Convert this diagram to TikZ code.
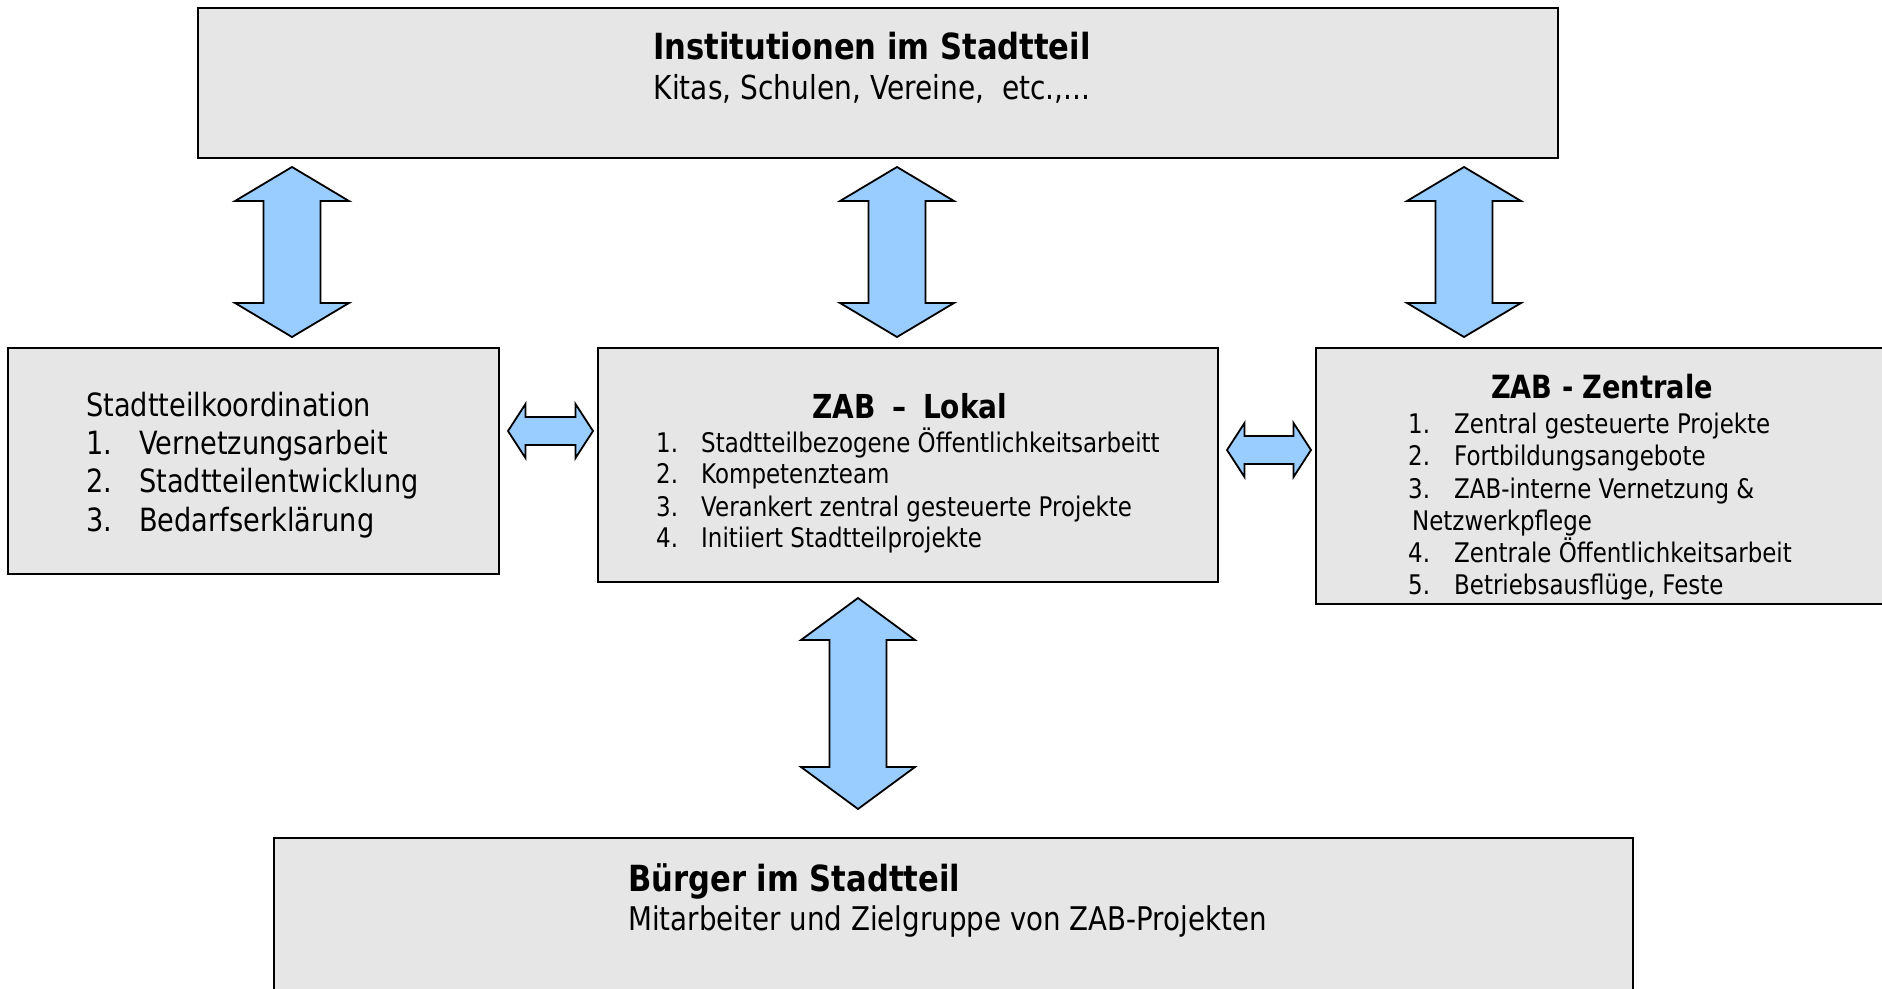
\documentclass[tikz,border=0pt]{standalone}
\usepackage{fontspec}
\setmainfont{DejaVu Sans}[FakeStretch=0.85]
\usetikzlibrary{calc}
\definecolor{boxgray}{HTML}{E6E6E6}
\definecolor{arrowblue}{HTML}{99CCFF}

% block arrows between the boxes
\newcommand{\vblock}[6]{% head length, axis, upper node, lower node, top gap, bottom gap
  \draw[blockarrow] let \p1=(#2 |- #3.south), \p2=(#2 |- #4.north) in
    (\x1,\y1-#5) -- ++(57pt,-#1) -- ++(-28.5pt,0pt) -- (\x1+28.5pt,\y2+#6+#1)
    -- ++(28.5pt,0pt) -- (\x1,\y2+#6) -- ++(-57pt,#1) -- ++(28.5pt,0pt)
    -- (\x1-28.5pt,\y1-#5-#1) -- ++(-28.5pt,0pt) -- cycle;}
\newcommand{\hblock}[3]{% axis, left node, right node
  \draw[blockarrow] let \p1=(#1 -| #2.east), \p2=(#1 -| #3.west) in
    (\x1+8pt,\y1) -- ++(17.5pt,27pt) -- ++(0pt,-13pt) -- (\x2-21.5pt,\y1+14pt)
    -- ++(0pt,13pt) -- (\x2-4pt,\y1) -- ++(-17.5pt,-27pt) -- ++(0pt,13pt)
    -- (\x1+25.5pt,\y1-14pt) -- ++(0pt,-13pt) -- cycle;}

\tikzset{
  box/.style={draw=black, line width=2pt, fill=boxgray, rectangle, inner sep=0pt},
  blockarrow/.style={draw=black, line width=1.8pt, fill=arrowblue, line join=miter},
  bighead/.style={font=\bfseries\fontsize{36}{42}\selectfont, inner sep=0pt},
  smallhead/.style={font=\bfseries\fontsize{32}{38}\selectfont, inner sep=0pt, anchor=base},
  bigtext/.style={font=\fontsize{32}{38}\selectfont, inner sep=0pt, anchor=base west},
  item/.style={font=\fontsize{27}{32}\selectfont, inner sep=0pt, anchor=base west}
}

\begin{document}
\begin{tikzpicture}[x=1pt,y=-1pt]
\useasboundingbox (0,0) rectangle (1882,988);
\clip (0,0) rectangle (1882,988);

% === TOP: Institutionen ===
\node[box, minimum width=1360pt, minimum height=150pt] (inst) at (878,83) {};
\node[bighead, anchor=base] (instT) at (872,59) {Institutionen im Stadtteil};
\node[font=\fontsize{33}{38}\selectfont, inner sep=0pt, anchor=base] (instS) at (872,99) {Kitas, Schulen, Vereine,\ \ etc.,...};

% === LEFT: Stadtteilkoordination ===
\node[box, minimum width=491pt, minimum height=226pt] (koord) at (253.5,461) {};
\node[bigtext] (koordT) at (86,416) {Stadtteilkoordination};
\node[bigtext] (koord1) at (86,454) {\makebox[53pt][l]{1.}Vernetzungsarbeit};
\node[bigtext] (koord2) at (86,492) {\makebox[53pt][l]{2.}Stadtteilentwicklung};
\node[bigtext] (koord3) at (86,531) {\makebox[53pt][l]{3.}Bedarfserklärung};

% === MIDDLE: ZAB Lokal ===
\node[box, minimum width=620pt, minimum height=234pt] (lokal) at (908,465) {};
\node[smallhead, font=\bfseries\fontsize{33}{38}\selectfont] (lokalT) at (910,418) {ZAB\enspace–\enspace Lokal};
\node[item] (lokal1) at (656,452) {\makebox[45pt][l]{1.}Stadtteilbezogene Öffentlichkeitsarbeitt};
\node[item] (lokal2) at (656,483) {\makebox[45pt][l]{2.}Kompetenzteam};
\node[item] (lokal3) at (656,516) {\makebox[45pt][l]{3.}Verankert zentral gesteuerte Projekte};
\node[item] (lokal4) at (656,547) {\makebox[45pt][l]{4.}Initiiert Stadtteilprojekte};

% === RIGHT: ZAB Zentrale ===
\node[box, minimum width=584pt, minimum height=256pt] (zentr) at (1608,476) {};
\node[smallhead] (zentrT) at (1602,398) {ZAB - Zentrale};
\node[item] (zentr1) at (1408,433) {\makebox[46pt][l]{1.}Zentral gesteuerte Projekte};
\node[item] (zentr2) at (1408,465) {\makebox[46pt][l]{2.}Fortbildungsangebote};
\node[item] (zentr3) at (1408,498) {\makebox[46pt][l]{3.}ZAB-interne Vernetzung \&};
\node[item] (zentr3b) at (1412,530) {Netzwerkpflege};
\node[item] (zentr4) at (1408,562) {\makebox[46pt][l]{4.}Zentrale Öffentlichkeitsarbeit};
\node[item] (zentr5) at (1408,594) {\makebox[46pt][l]{5.}Betriebsausflüge, Feste};

% === BOTTOM: Buerger ===
\node[box, minimum width=1359pt, minimum height=172pt] (buerger) at (953.5,924) {};
\node[bighead, anchor=base west] (buergerT) at (628,891) {Bürger im Stadtteil};
\node[bigtext, font=\fontsize{32.6}{38}\selectfont] (buergerS) at (628,930) {Mitarbeiter und Zielgruppe von ZAB-Projekten};

% === Arrows ===
\coordinate (axA) at (292,0);
\coordinate (axB) at (897,0);
\coordinate (axC) at (1464,0);
\coordinate (axD) at (858,0);
\coordinate (ayA) at (0,431);
\coordinate (ayB) at (0,450);
\vblock{34pt}{axA}{inst}{koord}{8pt}{10pt}
\vblock{34pt}{axB}{inst}{lokal}{8pt}{10pt}
\vblock{34pt}{axC}{inst}{zentr}{8pt}{10pt}
\vblock{42pt}{axD}{lokal}{buerger}{15pt}{28pt}
\hblock{ayA}{koord}{lokal}
\hblock{ayB}{lokal}{zentr}

\end{tikzpicture}
\end{document}
